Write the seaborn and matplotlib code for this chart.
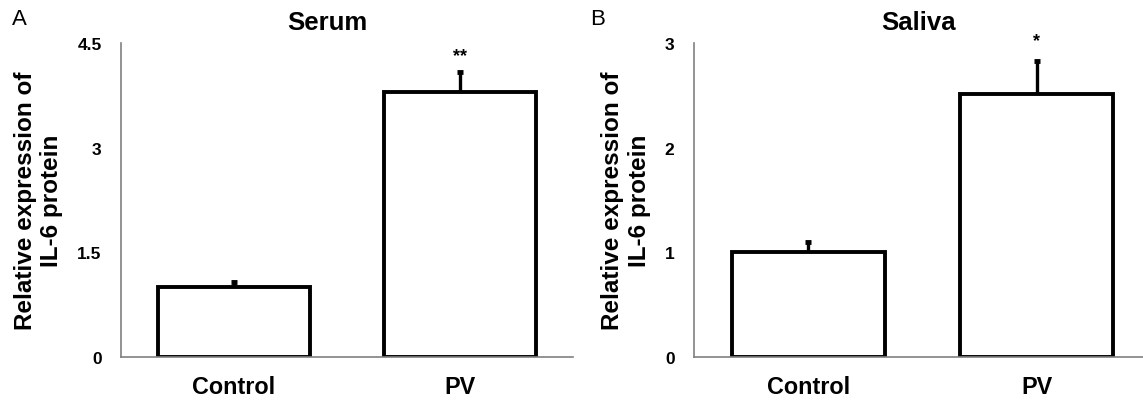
import matplotlib
matplotlib.use('Agg')
import matplotlib.pyplot as plt
import seaborn as sns
import pandas as pd

groups = ['Control', 'PV']
serum_mean = [1.0, 3.80]
serum_err = [0.07, 0.29]
saliva_mean = [1.0, 2.51]
saliva_err = [0.10, 0.32]
serum_ticks = [0, 1.5, 3, 4.5]
saliva_ticks = [0, 1, 2, 3]
serum_stars = ['', '**']
saliva_stars = ['', '*']

sns.set_theme(style='white')
plt.rcParams['font.family'] = ['Liberation Sans', 'DejaVu Sans']
plt.rcParams['text.color'] = 'black'
plt.rcParams['axes.labelcolor'] = 'black'
plt.rcParams['xtick.color'] = 'black'
plt.rcParams['ytick.color'] = 'black'

fig = plt.figure(figsize=(11.43, 4.02), dpi=100)
ax1 = fig.add_axes([0.1059, 0.1095, 0.3954, 0.781])
ax2 = fig.add_axes([0.6072, 0.1095, 0.3928, 0.781])


def panel(ax, means, errs, ticks, stars, title, xmax, title_x, star_off):
    df = pd.DataFrame({'group': groups, 'value': means})
    sns.barplot(data=df, x='group', y='value', color='white', edgecolor='black',
                linewidth=2.8, width=0.67, errorbar=None, ax=ax)
    for p in ax.patches:
        p.set_facecolor('white')
    eb = ax.errorbar(range(len(means)), means, yerr=[[0] * len(errs), errs], fmt='none',
                     ecolor='black', elinewidth=2.4, capsize=2.5, capthick=3.5, zorder=3)
    eb[1][0].set_visible(False)  # only the upper cap
    top = ticks[-1]
    for i, s in enumerate(stars):
        if s:
            ax.text(i, means[i] + errs[i] + top * star_off, s, ha='center', va='center',
                    fontsize=13, fontweight='bold', clip_on=False)
    ax.set_ylim(0, top)
    ax.set_xlim(-0.5, xmax)
    ax.set_yticks(ticks)
    ax.set_yticklabels([f'{t:g}' for t in ticks], fontsize=12.5, fontweight='bold')
    ax.set_xticks(range(len(groups)))
    ax.set_xticklabels(groups, fontsize=16.8, fontweight='bold')
    ax.tick_params(axis='y', direction='in', length=5, width=1, color='#808080',
                   labelcolor='black', pad=14)
    ax.tick_params(axis='x', length=0, pad=13, labelcolor='black')
    for side in ['top', 'right']:
        ax.spines[side].set_visible(False)
    for side in ['left', 'bottom']:
        ax.spines[side].set_color('#808080')
        ax.spines[side].set_linewidth(1.2)
    ax.set_xlabel('')
    ax.set_ylabel('Relative expression of\nIL-6 protein', fontsize=17.5, fontweight='bold',
                  linespacing=1.2, labelpad=10)
    ax.set_title(title, fontsize=18.5, fontweight='bold', x=title_x, pad=10)


panel(ax1, serum_mean, serum_err, serum_ticks, serum_stars, 'Serum', 1.5, 0.456, 0.05)
panel(ax2, saliva_mean, saliva_err, saliva_ticks, saliva_stars, 'Saliva', 1.465, 0.5, 0.065)

fig.text(0.0105, 0.938, 'A', fontsize=16)
fig.text(0.516, 0.938, 'B', fontsize=16)

fig.savefig('out.png', dpi=100)
